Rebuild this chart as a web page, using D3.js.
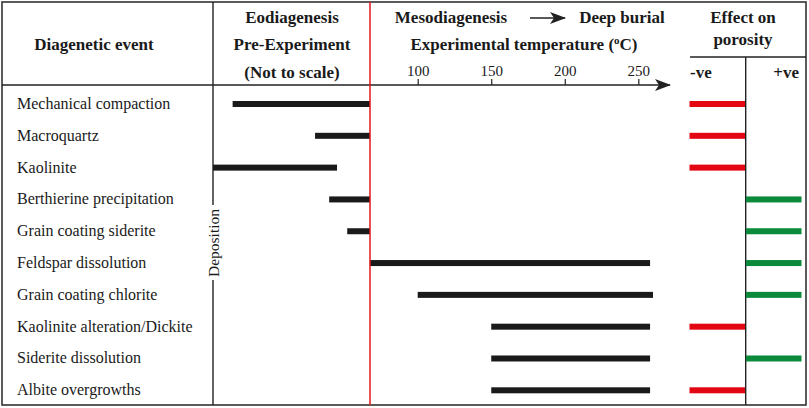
<!DOCTYPE html>
<html>
<head>
<meta charset="utf-8">
<script src="https://cdn.jsdelivr.net/npm/d3@7"></script>
<style>
  body { margin: 0; background: #fff; }
  text { font-family: "Liberation Serif", "Times New Roman", serif; fill: #1a1a1a; }
</style>
</head>
<body>
<div id="container"></div>
<script>
/* CONSTANTS AND GLOBALS */
const width = 809;
const height = 408;

/* DATA */
const events = [
  "Mechanical compaction", "Macroquartz", "Kaolinite", "Berthierine precipitation",
  "Grain coating siderite", "Feldspar dissolution", "Grain coating chlorite",
  "Kaolinite alteration/Dickite", "Siderite dissolution", "Albite overgrowths"
];
// eodiagenesis span, relative units 0-100 (not to scale); null = none
const eoStart = [12.5, 65, 0, 74, 85.5, null, null, null, null, null];
const eoEnd   = [100, 100, 79, 100, 100, null, null, null, null, null];
// experimental span, degrees C; 67.5 = start of experiment (red line)
const tempStart = [null, null, null, null, null, 67.5, 100, 150, 150, 150];
const tempEnd   = [null, null, null, null, null, 258, 260, 258, 258, 258];
// effect on porosity
const effect = ["-ve", "-ve", "-ve", "+ve", "+ve", "+ve", "+ve", "-ve", "+ve", "-ve"];
const tempTicks = [100, 150, 200, 250];

const svg = d3.select("#container")
  .append("svg")
  .attr("width", width)
  .attr("height", height);

/* SCALES */
const yScale = d3.scalePoint()
  .domain(events)
  .range([104, 390.3]);

const eoScale = d3.scaleLinear()
  .domain([0, 100])
  .range([213, 370]);

const tempScale = d3.scaleLinear()
  .domain([100, 250])
  .range([417.7, 638.3]);

const effectScale = d3.scaleBand()
  .domain(["-ve", "+ve"])
  .range([689.5, 801.5]);

const line = "#222";

/* FRAME */
svg.append("rect")
  .attr("x", 2).attr("y", 2)
  .attr("width", 804).attr("height", 403)
  .attr("fill", "none")
  .attr("stroke", "#333")
  .attr("stroke-width", 1.6);

// event column separator, broken by "Deposition"
svg.append("line")
  .attr("x1", 213).attr("x2", 213).attr("y1", 2).attr("y2", 205)
  .attr("stroke", line).attr("stroke-width", 1.4);
svg.append("line")
  .attr("x1", 213).attr("x2", 213).attr("y1", 280).attr("y2", 405)
  .attr("stroke", line).attr("stroke-width", 1.4);
svg.append("text")
  .attr("transform", "translate(218.5,243) rotate(-90)")
  .attr("text-anchor", "middle")
  .style("font-size", "15.5px")
  .text("Deposition");

// effect column
svg.append("line")
  .attr("x1", 690).attr("x2", 806).attr("y1", 57).attr("y2", 57)
  .attr("stroke", line).attr("stroke-width", 1.4);
svg.append("line")
  .attr("x1", 745.7).attr("x2", 745.7).attr("y1", 57).attr("y2", 405)
  .attr("stroke", line).attr("stroke-width", 1.4);

/* AXIS */
svg.append("defs").append("marker")
  .attr("id", "arrow")
  .attr("viewBox", "0 0 16 12")
  .attr("refX", 15).attr("refY", 6)
  .attr("markerUnits", "userSpaceOnUse")
  .attr("markerWidth", 16).attr("markerHeight", 12)
  .attr("orient", "auto")
  .append("path")
  .attr("d", "M0,0 L16,6 L0,12 L4,6 Z")
  .attr("fill", line);

svg.append("line")
  .attr("x1", 2).attr("x2", 670).attr("y1", 85).attr("y2", 85)
  .attr("stroke", line).attr("stroke-width", 1.4)
  .attr("marker-end", "url(#arrow)");

const xAxis = d3.axisTop(tempScale)
  .tickValues(tempTicks)
  .tickSize(6)
  .tickPadding(3);
const axisG = svg.append("g")
  .attr("transform", "translate(0,85)")
  .call(xAxis);
axisG.select(".domain").remove();
axisG.selectAll("line").attr("stroke", line).attr("stroke-width", 1.2);
axisG.selectAll("text")
  .attr("fill", "#1a1a1a")
  .style("font-family", "'Liberation Serif', 'Times New Roman', serif")
  .style("font-size", "15px");

/* HEADERS */
const bold = (x, y, t, anchor = "middle") => svg.append("text")
  .attr("x", x).attr("y", y)
  .attr("text-anchor", anchor)
  .style("font-size", "17px")
  .style("font-weight", "bold")
  .text(t);

bold(94, 50, "Diagenetic event");
bold(292, 23, "Eodiagenesis");
bold(292, 50, "Pre-Experiment");
bold(292, 78, "(Not to scale)");
bold(451, 23, "Mesodiagenesis");
bold(622, 23, "Deep burial");
const expT = bold(524, 50, "Experimental temperature (");
expT.append("tspan").attr("dy", -6).style("font-size", "11px").text("o");
expT.append("tspan").attr("dy", 6).text("C)");
bold(743, 23, "Effect on");
bold(743, 45, "porosity");
bold(690, 78, "-ve", "start");
bold(799, 78, "+ve", "end");

// arrow between Mesodiagenesis and Deep burial
svg.append("line")
  .attr("x1", 530).attr("x2", 565).attr("y1", 18).attr("y2", 18)
  .attr("stroke", line).attr("stroke-width", 1.4)
  .attr("marker-end", "url(#arrow)");

/* ROW LABELS */
svg.selectAll(".label")
  .data(events)
  .join("text")
  .attr("class", "label")
  .attr("x", 17)
  .attr("y", d => yScale(d) + 5)
  .style("font-size", "16px")
  .text(d => d);

/* BARS */
const barH = 6;
const rows = events.map((e, i) => ({
  event: e,
  eoStart: eoStart[i], eoEnd: eoEnd[i],
  tempStart: tempStart[i], tempEnd: tempEnd[i],
  effect: effect[i]
}));

svg.selectAll(".eo-bar")
  .data(rows.filter(d => d.eoStart !== null))
  .join("rect")
  .attr("class", "eo-bar")
  .attr("x", d => eoScale(d.eoStart))
  .attr("y", d => yScale(d.event) - barH / 2)
  .attr("width", d => eoScale(d.eoEnd) - eoScale(d.eoStart))
  .attr("height", barH)
  .attr("fill", "#1a1a1a");

svg.selectAll(".temp-bar")
  .data(rows.filter(d => d.tempStart !== null))
  .join("rect")
  .attr("class", "temp-bar")
  .attr("x", d => tempScale(d.tempStart))
  .attr("y", d => yScale(d.event) - barH / 2)
  .attr("width", d => tempScale(d.tempEnd) - tempScale(d.tempStart))
  .attr("height", barH)
  .attr("fill", "#1a1a1a");

svg.selectAll(".effect-bar")
  .data(rows)
  .join("rect")
  .attr("class", "effect-bar")
  .attr("x", d => effectScale(d.effect) + (d.effect === "+ve" ? 0.5 : 0))
  .attr("y", d => yScale(d.event) - barH / 2)
  .attr("width", effectScale.bandwidth() - 0.5)
  .attr("height", barH)
  .attr("fill", d => d.effect === "-ve" ? "#e30613" : "#0a8a3a");

// red boundary: start of experiment, drawn over the bars
svg.append("line")
  .attr("x1", eoScale(100)).attr("x2", eoScale(100))
  .attr("y1", 2).attr("y2", 405)
  .attr("stroke", "#e5161e").attr("stroke-width", 1.5);
</script>
</body>
</html>
